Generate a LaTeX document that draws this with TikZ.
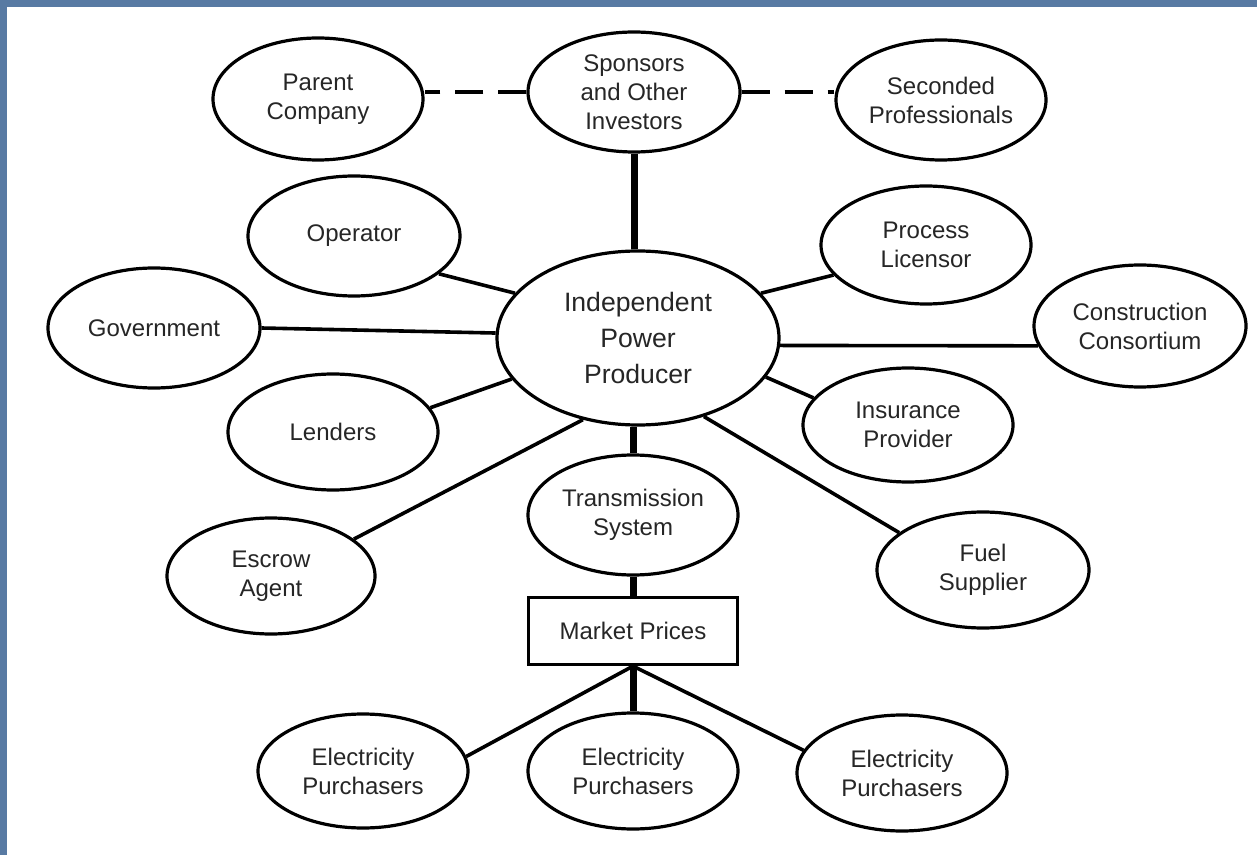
\documentclass[tikz,border=0pt]{standalone}
\usepackage{fontspec}
\setmainfont{Liberation Sans}
\usetikzlibrary{shapes.geometric}
\definecolor{slideblue}{RGB}{88,122,163}
\begin{document}
\begin{tikzpicture}[x=0.5pt,y=-0.5pt,
  party/.style={draw, ellipse, line width=1.6pt, inner sep=0pt, align=center,
    font=\fontsize{12}{14.5}\selectfont, text=black!85},
  hub/.style={party, minimum width=282pt/2, minimum height=174pt/2,
    font=\fontsize{13.3}{18}\selectfont},
  pricebox/.style={draw, rectangle, line width=1.6pt, minimum width=209pt/2,
    minimum height=67pt/2, inner sep=0pt, font=\fontsize{12}{14.5}\selectfont, text=black!85},
  link/.style={line width=1.8pt},
  trunk/.style={line width=3.5pt},
  loose/.style={line width=2pt, dash pattern=on 14pt off 7.5pt}
]
% page and slide frame
\fill[slideblue] (0,0) rectangle (1257,855);
\fill[white] (7,7) rectangle (1257,855);
\useasboundingbox (0,0) rectangle (1257,855);

% parties
\node[party, minimum width=105pt, minimum height=61pt] (parent)  at (318,99)  {Parent\\Company};
\node[party, minimum width=106pt, minimum height=60pt] (sponsors) at (634,92) {Sponsors\\and Other\\Investors};
\node[party, minimum width=105pt, minimum height=60pt] (seconded) at (941,100) {Seconded\\Professionals};
\node[party, minimum width=106pt, minimum height=60pt] (operator) at (354,236) {Operator};
\node[party, minimum width=106pt, minimum height=60pt] (gov)      at (154,328) {Government};
\node[party, minimum width=105pt, minimum height=58pt] (lenders)  at (333,432) {Lenders};
\node[party, minimum width=104pt, minimum height=58pt] (escrow)   at (271,576) {Escrow\\Agent};
\node[hub] (ipp) at (638,338) {Independent\\Power\\Producer};
\node[party, minimum width=105pt, minimum height=59pt] (licensor) at (926,245) {Process\\Licensor};
\node[party, minimum width=106pt, minimum height=61pt] (construct) at (1140,326) {Construction\\Consortium};
\node[party, minimum width=105pt, minimum height=57pt] (insurance) at (908,425) {Insurance\\Provider};
\node[party, minimum width=106pt, minimum height=58pt] (fuel)     at (983,570) {Fuel\\Supplier};
\node[party, minimum width=105pt, minimum height=60pt] (trans)    at (633,515) {Transmission\\System};
\node[pricebox] (market) at (633,631) {Market Prices};
\node[party, minimum width=105pt, minimum height=57pt] (ep1) at (363,771) {Electricity\\Purchasers};
\node[party, minimum width=105pt, minimum height=58pt] (ep2) at (633,771) {Electricity\\Purchasers};
\node[party, minimum width=105pt, minimum height=58pt] (ep3) at (902,773) {Electricity\\Purchasers};

% dashed ties at the top
\draw[loose] (sponsors.west) -- (sponsors.west -| parent.east);
\draw[loose] (sponsors.east) -- (sponsors.east -| seconded.west);

% heavy trunk
\draw[trunk] (sponsors.south) -- (sponsors.south |- ipp.north);
\draw[trunk] (trans.north) -- (trans.north |- ipp.south);
\draw[trunk] (trans.south) -- (market.north);
\draw[trunk] (market.south) -- (ep2.north);

% spokes around the producer
\draw[link] (operator.-24) -- (ipp.160);
\draw[link] (gov.east) -- (ipp.178.5);
\draw[link] (lenders.14) -- (ipp.198);
\draw[link] (escrow.24) -- (ipp.236);
\draw[link] (licensor.198) -- (ipp.20);
\draw[link] (construct.191) -- (ipp.-3);
\draw[link] (insurance.164) -- (ipp.-17);
\draw[link] (fuel.156) -- (ipp.-50);

% purchasers under the market
\draw[link] (market.south) -- (ep1.8);
\draw[link] (market.south) -- (ep3.167);
\end{tikzpicture}
\end{document}
